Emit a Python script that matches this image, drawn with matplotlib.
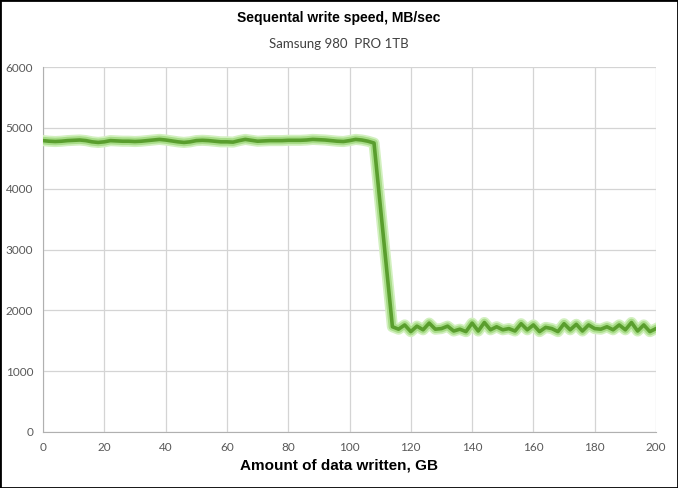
import matplotlib
matplotlib.use("Agg")
import matplotlib.pyplot as plt
import matplotlib.patheffects as pe
from matplotlib import font_manager

top_x = list(range(0, 110, 2))
top_y = [4790, 4780, 4775, 4780, 4790, 4795, 4800, 4790, 4770, 4760,
         4770, 4790, 4785, 4780, 4780, 4775, 4780, 4790, 4800, 4810,
         4800, 4785, 4770, 4760, 4770, 4790, 4795, 4790, 4780, 4770,
         4770, 4765, 4790, 4810, 4795, 4780, 4785, 4790, 4790, 4790,
         4795, 4795, 4795, 4800, 4810, 4805, 4800, 4790, 4780, 4775,
         4790, 4810, 4800, 4780, 4750]
low_x = list(range(114, 202, 2))
low_y = [1730, 1690, 1760, 1650, 1740, 1680, 1790, 1690, 1700, 1740,
         1660, 1690, 1650, 1790, 1660, 1800, 1680, 1730, 1680, 1700,
         1660, 1780, 1680, 1760, 1650, 1720, 1700, 1650, 1780, 1680,
         1770, 1660, 1760, 1700, 1690, 1730, 1680, 1760, 1680, 1800,
         1660, 1760, 1650, 1700][:len(low_x)]

xs = top_x + low_x
ys = top_y + low_y

x_ticks = list(range(0, 201, 20))
y_ticks = list(range(0, 6001, 1000))

names = {f.name for f in font_manager.fontManager.ttflist}
bold_family = ["Liberation Sans Narrow"] if "Liberation Sans Narrow" in names else ["Liberation Sans"]
narrow = bold_family[0] == "Liberation Sans Narrow"

fig = plt.figure(figsize=(6.78, 4.88), dpi=100)
ax = fig.add_axes([43/678, 1-432/488, (656-43)/678, (432-67)/488])

ax.plot(xs, ys, color="#5a9e2e", lw=2.6, solid_joinstyle="round",
        path_effects=[pe.Stroke(linewidth=8, foreground="#d2f0bf"),
                      pe.Stroke(linewidth=5.5, foreground="#a8dc88"),
                      pe.Normal()], zorder=3)

ax.set_xlim(0, 200)
ax.set_ylim(0, 6000)
ax.set_xticks(x_ticks)
ax.set_yticks(y_ticks)
ax.grid(True, color="#d4d4d4", lw=0.9)
ax.set_axisbelow(True)
for s in ["top", "right"]:
    ax.spines[s].set_visible(False)
for s in ["left", "bottom"]:
    ax.spines[s].set_color("#b0b0b0")
ax.tick_params(length=0, pad=7, labelsize=8.5, labelcolor="#595959")
for lab in ax.get_xticklabels() + ax.get_yticklabels():
    lab.set_family("Lato")

fig.text(0.5, 1-18/488, "Sequental write speed, MB/sec", ha="center", va="center",
         fontsize=12 if narrow else 10, fontweight="bold", family=bold_family)
fig.text(0.5, 1-44/488, "Samsung 980  PRO 1TB", ha="center", va="center",
         fontsize=9.5, color="#404040", family="Lato")
fig.text(0.5, 1-466/488, "Amount of data written, GB", ha="center", va="center",
         fontsize=13 if narrow else 11, fontweight="bold", family=bold_family)

border = plt.Rectangle((0, 0), 1, 1, transform=fig.transFigure, fill=False,
                       edgecolor="black", lw=2)
fig.patches.append(border)

fig.savefig("out.png", dpi=100)
